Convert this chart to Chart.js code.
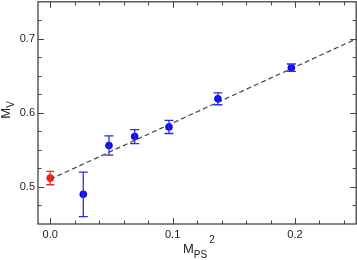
<!DOCTYPE html>
<html>
<head>
<meta charset="utf-8">
<script src="https://cdn.jsdelivr.net/npm/chart.js@4/dist/chart.umd.min.js"></script>
<style>
  html, body { margin: 0; padding: 0; background: #fff; overflow: hidden; }
  /* canvas is a little larger than the window: Chart.js keeps a point-radius margin round the plot */
  #wrap { width: 360px; height: 262px; position: absolute; left: 0; top: -2px; }
</style>
</head>
<body>
<div id="wrap"><canvas id="c"></canvas></div>
<script>
// data
var red_x = [0.0]
var red_y = [0.512]
var red_err = [0.009]

var blue_x = [0.027, 0.048, 0.069, 0.097, 0.137, 0.197]
var blue_y = [0.490, 0.556, 0.568, 0.581, 0.619, 0.661]
var blue_err = [0.030, 0.013, 0.0095, 0.0088, 0.008, 0.005]

var fit_x = [0.0, 0.25]
var fit_y = [0.5105, 0.700]

var x_ticks = [0.0, 0.1, 0.2]
var y_ticks = [0.5, 0.6, 0.7]

var font_family = "'Liberation Sans', Arial, Helvetica, sans-serif"
var frame_color = '#444'

function to_points(xs, ys){
    return xs.map(function(x, i){ return {x: x, y: ys[i]} })
}

// error bars drawn through the chart's scales
var errorbar_plugin = {
    id: 'errorbars',
    afterDatasetsDraw: function(chart){
        var ctx = chart.ctx
        var xs = chart.scales.x, ys = chart.scales.y
        chart.data.datasets.forEach(function(ds){
            if(!ds.errors) return
            ctx.save()
            ctx.strokeStyle = ds.errorColor
            ctx.lineWidth = 1.3
            ds.data.forEach(function(p, i){
                var px = xs.getPixelForValue(p.x)
                var top = ys.getPixelForValue(p.y + ds.errors[i])
                var bot = ys.getPixelForValue(p.y - ds.errors[i])
                var w = ds.capWidth
                ctx.beginPath()
                ctx.moveTo(px, top); ctx.lineTo(px, bot)
                ctx.moveTo(px - w, top); ctx.lineTo(px + w, top)
                ctx.moveTo(px - w, bot); ctx.lineTo(px + w, bot)
                ctx.stroke()
            })
            ctx.restore()
        })
    }
}

// boxed frame with inward ticks on all four sides, plus axis titles
var frame_plugin = {
    id: 'frame',
    afterDraw: function(chart){
        var ctx = chart.ctx
        var a = chart.chartArea
        var xs = chart.scales.x, ys = chart.scales.y
        ctx.save()
        ctx.strokeStyle = frame_color
        ctx.lineWidth = 1.3
        ctx.strokeRect(a.left, a.top, a.right - a.left, a.bottom - a.top)

        ctx.lineWidth = 1
        ctx.beginPath()
        for(var i = 0; i <= 12; i++){
            var v = Math.round(i * 0.02 * 100) / 100
            var px = Math.round(xs.getPixelForValue(v)) + 0.5
            var len = (i % 5 == 0) ? 6 : 3.5
            ctx.moveTo(px, a.bottom); ctx.lineTo(px, a.bottom - len)
            ctx.moveTo(px, a.top); ctx.lineTo(px, a.top + len)
        }
        for(var j = 1; j < 12; j++){
            var vy = 0.45 + j * 0.025
            var py = Math.round(ys.getPixelForValue(vy)) + 0.5
            var leny = (j % 4 == 2) ? 6 : 3.5
            ctx.moveTo(a.left, py); ctx.lineTo(a.left + leny, py)
            ctx.moveTo(a.right, py); ctx.lineTo(a.right - leny, py)
        }
        ctx.stroke()

        // x title: M_PS^2
        ctx.fillStyle = '#222'
        ctx.textBaseline = 'alphabetic'
        ctx.textAlign = 'left'
        var cx = (a.left + a.right) / 2
        var base = a.bottom + 29
        ctx.font = '13px ' + font_family
        var wM = ctx.measureText('M').width
        ctx.font = '10px ' + font_family
        var wPS = ctx.measureText('PS').width
        var start = cx - (wM + wPS + 6) / 2 + 1
        ctx.font = '13px ' + font_family
        ctx.fillText('M', start, base)
        ctx.font = '10px ' + font_family
        ctx.fillText('PS', start + wM, base + 4.5)
        ctx.fillText('2', start + wM + wPS + 2, base - 10)

        // y title: M_V, rotated
        ctx.translate(10, (a.top + a.bottom) / 2 - 3)
        ctx.rotate(-Math.PI / 2)
        ctx.font = '13px ' + font_family
        var mw = ctx.measureText('M').width
        ctx.font = '10px ' + font_family
        var vw = ctx.measureText('V').width
        var s = -(mw + vw) / 2
        ctx.font = '13px ' + font_family
        ctx.fillText('M', s, 0)
        ctx.font = '10px ' + font_family
        ctx.fillText('V', s + mw, 3.5)
        ctx.restore()
    }
}

var ctx = document.getElementById('c').getContext('2d')
var chart = new Chart(ctx, {
    type: 'scatter',
    data: {
        datasets: [
            {
                type: 'line',
                data: to_points(fit_x, fit_y),
                borderColor: '#444',
                borderDash: [5, 3],
                borderWidth: 1.2,
                pointRadius: 0,
                pointHoverRadius: 0,
                fill: false,
                order: 3
            },
            {
                data: to_points(red_x, red_y),
                errors: red_err,
                errorColor: '#ee2a2a',
                capWidth: 4,
                backgroundColor: '#ee1c1c',
                borderWidth: 0,
                pointRadius: 3.8,
                pointHoverRadius: 0,
                pointHoverBorderWidth: 0,
                order: 1
            },
            {
                data: to_points(blue_x, blue_y),
                errors: blue_err,
                errorColor: '#2a2aee',
                capWidth: 4.5,
                backgroundColor: '#0f0fe6',
                borderWidth: 0,
                pointRadius: 3.8,
                pointHoverRadius: 0,
                pointHoverBorderWidth: 0,
                order: 1
            }
        ]
    },
    options: {
        responsive: true,
        maintainAspectRatio: false,
        animation: false,
        events: [],
        layout: { padding: 0 },
        plugins: { legend: { display: false }, tooltip: { enabled: false } },
        scales: {
            x: {
                type: 'linear',
                min: -0.01,
                max: 0.25,
                grid: { display: false, drawTicks: false },
                border: { display: false },
                afterBuildTicks: function(scale){ scale.ticks = x_ticks.map(function(v){ return {value: v} }) },
                afterFit: function(scale){
                    scale.height = 36
                    scale.paddingLeft = 0
                    scale.paddingRight = 0
                },
                ticks: {
                    padding: 4,
                    color: '#222',
                    font: { family: font_family, size: 11 },
                    callback: function(v){ return v.toFixed(1) }
                }
            },
            y: {
                type: 'linear',
                min: 0.45,
                max: 0.75,
                grid: { display: false, drawTicks: false },
                border: { display: false },
                afterBuildTicks: function(scale){ scale.ticks = y_ticks.map(function(v){ return {value: v} }) },
                afterFit: function(scale){
                    scale.width = 38
                    scale.paddingTop = 0
                    scale.paddingBottom = 0
                },
                ticks: {
                    padding: 3,
                    color: '#222',
                    font: { family: font_family, size: 11 },
                    callback: function(v){ return v.toFixed(1) }
                }
            }
        }
    },
    plugins: [errorbar_plugin, frame_plugin]
})
</script>
</body>
</html>
